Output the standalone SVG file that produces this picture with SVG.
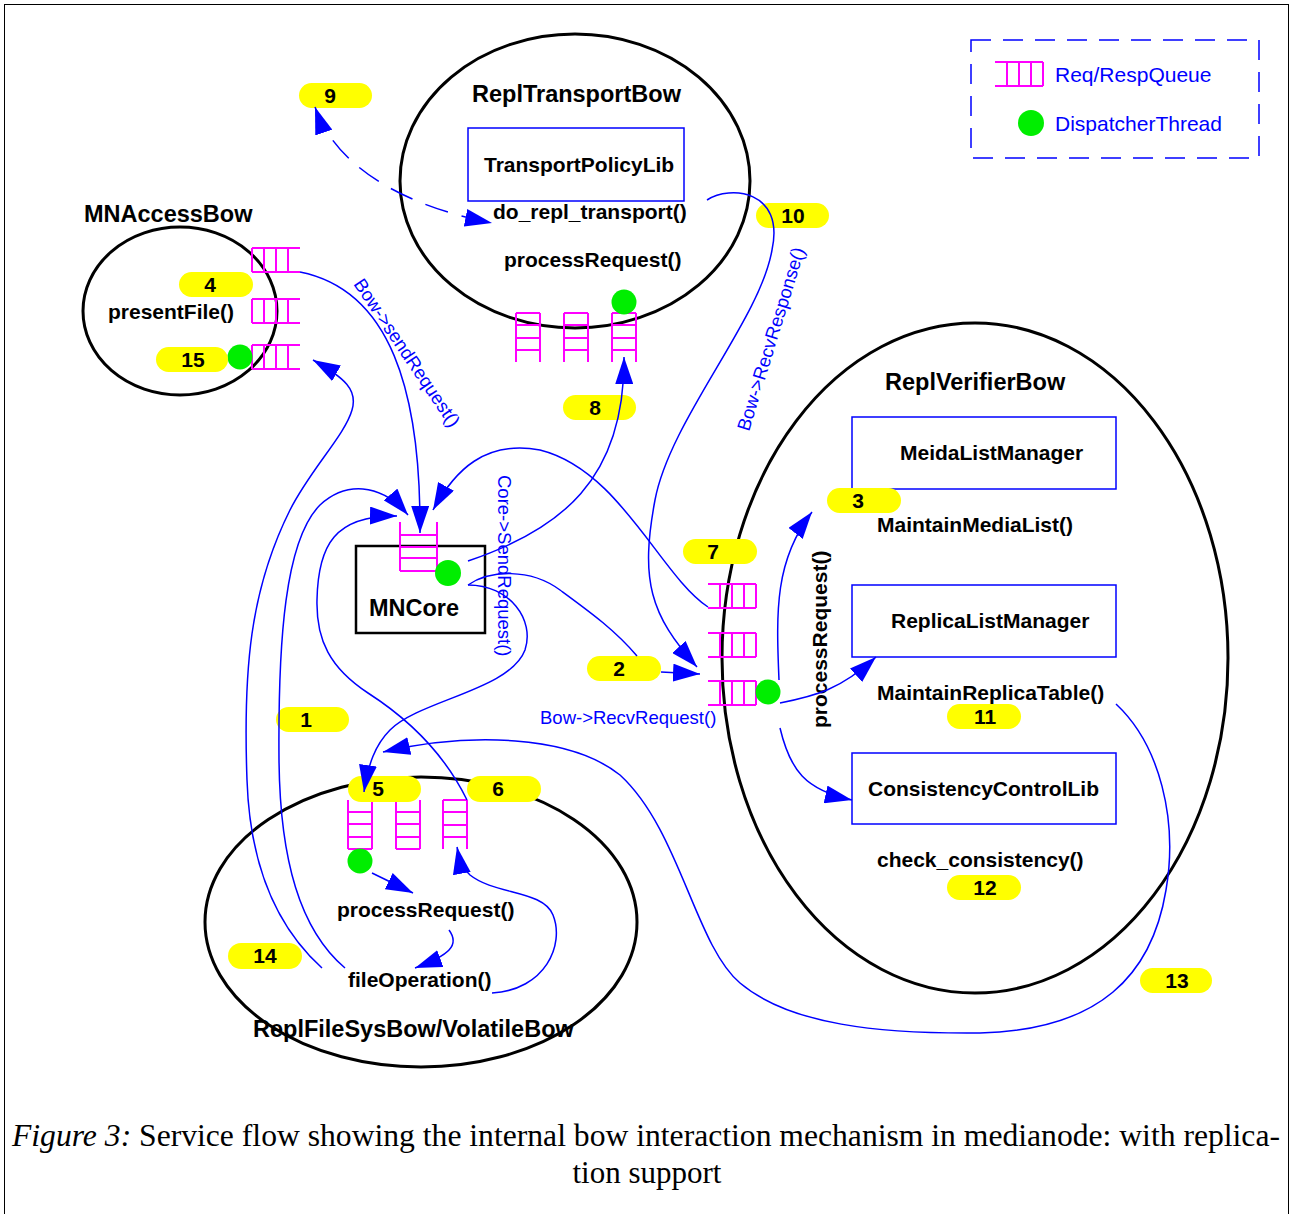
<svg xmlns="http://www.w3.org/2000/svg" width="1292" height="1214" viewBox="0 0 1292 1214">
<style>
.ell{fill:none;stroke:#000;stroke-width:3}
.core{fill:none;stroke:#000;stroke-width:2.5}
.box{fill:none;stroke:#0000ff;stroke-width:1.5}
.q{fill:none;stroke:#ff00ff;stroke-width:2}
.dt{fill:#00ee00}
.badge{fill:#ffff00}
.t{font-family:"Liberation Sans",Arial,sans-serif;font-weight:bold;font-size:21px;fill:#000}
.title{font-size:23.5px}
.num{font-family:"Liberation Sans",Arial,sans-serif;font-weight:bold;font-size:21px;fill:#000;text-anchor:middle}
.bl{font-family:"Liberation Sans",Arial,sans-serif;font-size:18.5px;fill:#0000ff}
.leg{font-family:"Liberation Sans",Arial,sans-serif;font-size:21px;fill:#0000ff}
.c{fill:none;stroke:#0000ff;stroke-width:1.5}
.cap{font-family:"Liberation Serif","Times New Roman",serif;font-size:31px;fill:#000}
</style>
<defs>
<marker id="ah" viewBox="0 0 27 18" refX="27" refY="9" markerWidth="27" markerHeight="18" markerUnits="userSpaceOnUse" orient="auto-start-reverse"><path d="M0,0 L27,9 L0,18 z" fill="#0000ff"/></marker>
<path id="qhR" class="q" d="M0,0H48M0,24H48M0,0V24M12,0V24M24,0V24M36,0V24"/>
<path id="qhL" class="q" d="M0,0H48M0,24H48M12,0V24M24,0V24M36,0V24M48,0V24"/>
<path id="qvT" class="q" d="M0,0V49M24,0V49M0,12H24M0,24H24M0,37H24M0,49H24"/>
<path id="qvB" class="q" d="M0,0V49M24,0V49M0,0H24M0,12H24M0,25H24M0,37H24"/>
</defs>
<rect x="4.5" y="4.5" width="1284" height="1230" fill="none" stroke="#000" stroke-width="1"/>

<g id="legend">
<rect x="971" y="40" width="288" height="118" fill="none" stroke="#0000ff" stroke-width="1.5" stroke-dasharray="20 12"/>
<use href="#qhL" x="995" y="62"/>
<text class="leg" x="1055" y="82">Req/RespQueue</text>
<circle class="dt" cx="1031" cy="123" r="13"/>
<text class="leg" x="1055" y="131">DispatcherThread</text>
</g>

<g id="MNAccessBow">
<ellipse class="ell" cx="180" cy="311" rx="97" ry="84"/>
<text class="t title" x="84" y="222">MNAccessBow</text>
<text class="t" x="108" y="319">presentFile()</text>
<use href="#qhR" x="252" y="248"/>
<use href="#qhR" x="252" y="299"/>
<use href="#qhR" x="252" y="345"/>
<circle class="dt" cx="240" cy="357" r="12.5"/>
</g>

<g id="ReplTransportBow">
<ellipse class="ell" cx="575" cy="181" rx="175" ry="147"/>
<text class="t title" x="472" y="102">ReplTransportBow</text>
<rect class="box" x="468" y="128" width="216" height="73"/>
<text class="t" x="484" y="172">TransportPolicyLib</text>
<text class="t" x="493" y="219">do_repl_transport()</text>
<text class="t" x="504" y="267">processRequest()</text>
<use href="#qvB" x="516" y="313"/>
<use href="#qvB" x="564" y="313"/>
<use href="#qvB" x="612" y="313"/>
<circle class="dt" cx="624" cy="302" r="12.5"/>
</g>

<g id="ReplVerifierBow">
<ellipse class="ell" cx="975" cy="658" rx="253" ry="335"/>
<text class="t title" x="885" y="390">ReplVerifierBow</text>
<rect class="box" x="852" y="417" width="264" height="72"/>
<text class="t" x="900" y="460">MeidaListManager</text>
<text class="t" x="877" y="532">MaintainMediaList()</text>
<rect class="box" x="852" y="585" width="264" height="72"/>
<text class="t" x="891" y="628">ReplicaListManager</text>
<text class="t" x="877" y="700">MaintainReplicaTable()</text>
<rect class="box" x="852" y="753" width="264" height="71"/>
<text class="t" x="868" y="796">ConsistencyControlLib</text>
<text class="t" x="877" y="867">check_consistency()</text>
<text class="t" transform="translate(827,728) rotate(-90)">processRequest()</text>
<use href="#qhL" x="708" y="584"/>
<use href="#qhL" x="708" y="633"/>
<use href="#qhL" x="708" y="681"/>
<circle class="dt" cx="768" cy="692" r="12.5"/>
</g>

<g id="MNCore">
<rect class="core" x="356" y="546" width="129" height="87"/>
<text class="t title" x="369" y="616">MNCore</text>
<path class="q" d="M400,522V571M437,522V571M400,535H437M400,547H437M400,558H437M400,571H437"/>
<circle class="dt" cx="448" cy="573" r="13"/>
</g>

<g id="ReplFileSysBow">
<ellipse class="ell" cx="421" cy="922" rx="216" ry="145"/>
<text class="t title" x="253" y="1037">ReplFileSysBow/VolatileBow</text>
<text class="t" x="337" y="917">processRequest()</text>
<text class="t" x="348" y="987">fileOperation()</text>
<use href="#qvT" x="348" y="800"/>
<use href="#qvT" x="396" y="800"/>
<use href="#qvB" x="443" y="800"/>
<circle class="dt" cx="360" cy="861" r="12.5"/>
</g>

<g id="badges">
<rect class="badge" x="299" y="83" width="73" height="25" rx="12.5"/><text class="num" x="330" y="103">9</text>
<rect class="badge" x="756" y="203" width="73" height="25" rx="12.5"/><text class="num" x="793" y="223">10</text>
<rect class="badge" x="179" y="272" width="74" height="25" rx="12.5"/><text class="num" x="210" y="292">4</text>
<rect class="badge" x="156" y="347" width="72" height="25" rx="12.5"/><text class="num" x="193" y="367">15</text>
<rect class="badge" x="563" y="395" width="73" height="25" rx="12.5"/><text class="num" x="595" y="415">8</text>
<rect class="badge" x="683" y="539" width="74" height="25" rx="12.5"/><text class="num" x="713" y="559">7</text>
<rect class="badge" x="587" y="656" width="74" height="25" rx="12.5"/><text class="num" x="619" y="676">2</text>
<rect class="badge" x="276" y="707" width="73" height="25" rx="12.5"/><text class="num" x="306" y="727">1</text>
<rect class="badge" x="348" y="776" width="73" height="26" rx="13"/><text class="num" x="378" y="796">5</text>
<rect class="badge" x="467" y="776" width="74" height="26" rx="13"/><text class="num" x="498" y="796">6</text>
<rect class="badge" x="228" y="943" width="74" height="26" rx="13"/><text class="num" x="265" y="963">14</text>
<rect class="badge" x="827" y="488" width="74" height="25" rx="12.5"/><text class="num" x="858" y="508">3</text>
<rect class="badge" x="947" y="704" width="74" height="25" rx="12.5"/><text class="num" x="985" y="724">11</text>
<rect class="badge" x="947" y="875" width="74" height="25" rx="12.5"/><text class="num" x="985" y="895">12</text>
<rect class="badge" x="1140" y="968" width="72" height="25" rx="12.5"/><text class="num" x="1177" y="988">13</text>
</g>

<g id="connectors">
<path class="c" stroke-dasharray="24 14" marker-start="url(#ah)" marker-end="url(#ah)" d="M315,107 C335,165 400,205 492,223"/>
<path class="c" marker-end="url(#ah)" d="M300,272 C390,290 421,390 420,533"/>
<path class="c" marker-end="url(#ah)" d="M468,561 C560,530 625,480 624,357"/>
<path class="c" marker-end="url(#ah)" d="M707,200 C730,185 785,190 772,250 C760,320 670,420 655,500 C640,580 650,615 697,667"/>
<path class="c" d="M468,585 C490,570 530,568 560,590 C590,612 615,630 637,656"/>
<path class="c" marker-end="url(#ah)" d="M661,672 L700,674"/>
<path class="c" marker-end="url(#ah)" d="M468,585 C510,585 535,620 525,650 C510,690 420,700 390,730 C375,745 368,765 364,792"/>
<path class="c" marker-end="url(#ah)" d="M708,607 C660,575 620,470 540,450 C485,440 455,470 433,510"/>
<path class="c" marker-end="url(#ah)" d="M322,968 C280,930 250,870 247,780 C243,670 250,590 290,510 C310,470 345,435 352,410 C358,390 345,378 313,360"/>
<path class="c" marker-end="url(#ah)" d="M345,968 C300,930 280,860 279,760 C278,640 285,540 320,505 C345,482 380,482 408,515"/>
<path class="c" marker-end="url(#ah)" d="M467,800 C445,755 410,720 368,693 C330,668 316,640 317,600 C318,545 335,515 397,516"/>
<path class="c" marker-end="url(#ah)" d="M1116,704 C1160,745 1178,820 1166,890 C1152,975 1100,1030 980,1033 C880,1034 790,1025 740,983 C695,945 680,830 620,775 C570,735 470,732 383,752"/>
<path class="c" marker-end="url(#ah)" d="M779,680 C776,610 775,560 812,512"/>
<path class="c" marker-end="url(#ah)" d="M780,703 C815,696 840,690 876,657"/>
<path class="c" marker-end="url(#ah)" d="M780,728 C790,770 805,790 852,800"/>
<path class="c" marker-end="url(#ah)" d="M372,873 L413,893"/>
<path class="c" marker-end="url(#ah)" d="M449,930 C460,945 450,955 415,968"/>
<path class="c" marker-end="url(#ah)" d="M492,993 C545,990 565,945 553,915 C543,890 495,895 470,875 C462,868 459,858 457,847"/>
<text class="bl" transform="translate(353,284) rotate(56)">Bow-&gt;sendRequest()</text>
<text class="bl" transform="translate(498,475) rotate(90)">Core-&gt;SendRequest()</text>
<text class="bl" transform="translate(749,432) rotate(-73)">Bow-&gt;RecvResponse()</text>
<text class="bl" x="540" y="724">Bow-&gt;RecvRequest()</text>
</g>

<g id="caption">
<text class="cap" x="12" y="1146" textLength="1268" lengthAdjust="spacingAndGlyphs"><tspan font-style="italic">Figure 3:</tspan> Service flow showing the internal bow interaction mechanism in medianode: with replica-</text>
<text class="cap" x="647" y="1183" text-anchor="middle">tion support</text>
</g>
</svg>
